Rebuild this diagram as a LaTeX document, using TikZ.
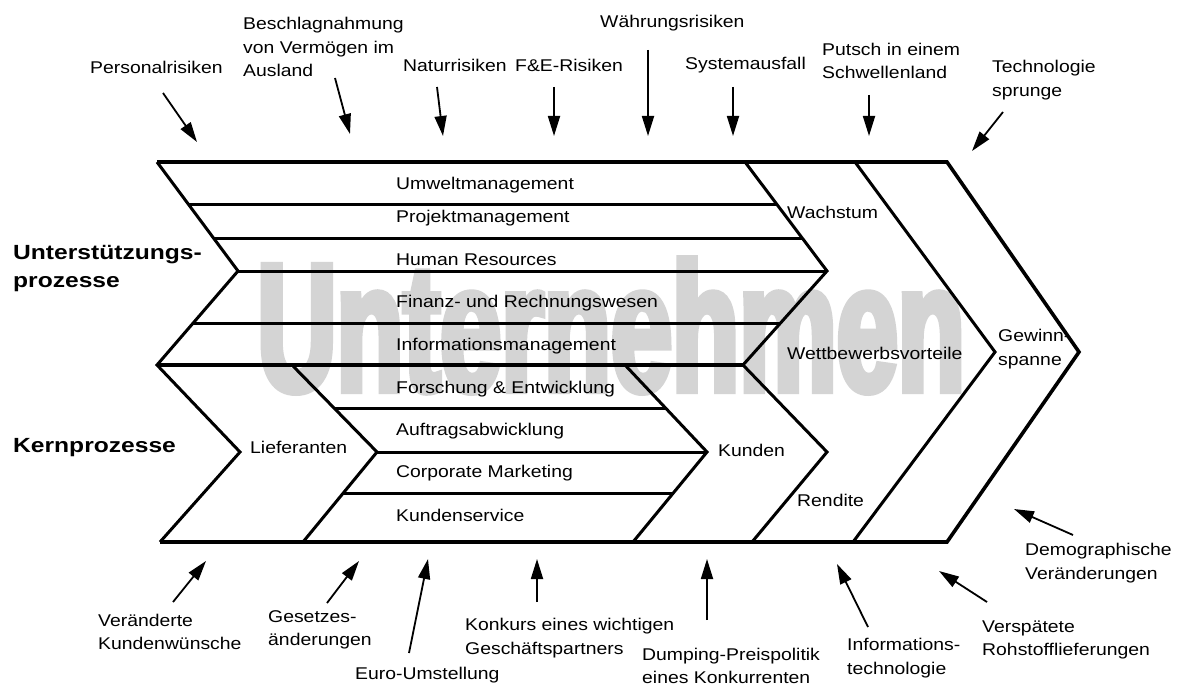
\documentclass[tikz,border=0pt]{standalone}
\usepackage{fontspec}
\setmainfont{Liberation Sans}
\newfontfamily\lblfont[FakeStretch=1.14]{Liberation Sans}
\newfontfamily\hdfont[FakeStretch=1.2]{Liberation Sans}
\newfontfamily\wmfont[FakeStretch=0.6,FakeBold=3.5]{Liberation Sans}
\usetikzlibrary{arrows.meta,calc}
\begin{document}
\begin{tikzpicture}[x=1pt,y=-1pt,
  lbl/.style={font=\lblfont\fontsize{17}{23.5}\selectfont, inner sep=0pt, anchor=west, align=left},
  hdr/.style={font=\hdfont\bfseries\fontsize{20.5}{28}\selectfont, inner sep=0pt, anchor=west, align=left},
  frame/.style={line width=3pt, line join=miter},
  rim/.style={line width=3.6pt, line join=miter},
  riskarrow/.style={line width=1.8pt, -{Triangle[length=20pt,width=12pt]}}]
\useasboundingbox (0,0) rectangle (1177,687);
\fill[white] (0,0) rectangle (1177,687);

% watermark
\node[inner sep=0pt, anchor=base west, text=black!17,
      font=\wmfont\bfseries\fontsize{183}{183}\selectfont] (wm) at (257,391) {Unternehmen};

% frame and chevrons
\draw[rim] (157,162) -- (947,162) -- (1079,352) -- (947,542) -- (160,542);
\draw[frame] (157,162) -- (238,271) -- (157,365) -- (240,452) -- (160,542);
\draw[frame] (745,162) -- (827,271) -- (743,365) -- (827,452) -- (752,542);
\draw[frame] (855,162) -- (995,352) -- (853,542);
% support lines
\draw[frame] (188,204) -- (777,204);
\draw[frame] (213.5,238) -- (802,238);
\draw[frame] (238,271) -- (827,271);
\draw[frame] (193,323) -- (780.5,323);
\draw[rim] (157,365) -- (743,365);
% core chevrons and lines
\draw[frame] (292,365) -- (377,452) -- (303,542);
\draw[frame] (625,365) -- (707,452) -- (633,542);
\draw[frame] (334,408) -- (665.5,408);
\draw[frame] (377,452) -- (707,452);
\draw[frame] (343,493) -- (673,493);

% inner labels
\node[lbl] (umw) at (396,185) {Umweltmanagement};
\node[lbl] (prj) at (396,218) {Projektmanagement};
\node[lbl] (hum) at (396,260) {Human Resources};
\node[lbl] (fin) at (396,303) {Finanz- und Rechnungswesen};
\node[lbl] (inf) at (396,346) {Informationsmanagement};
\node[lbl] (fue) at (396,389) {Forschung \& Entwicklung};
\node[lbl] (auf) at (396,431) {Auftragsabwicklung};
\node[lbl] (cm)  at (396,473) {Corporate Marketing};
\node[lbl] (ks)  at (396,515) {Kundenservice};
\node[lbl] (lief) at (250,447) {Lieferanten};
\node[lbl] (kund) at (718,450) {Kunden};
\node[lbl] (wach) at (787,212) {Wachstum};
\node[lbl] (wett) at (787,353) {Wettbewerbsvorteile};
\node[lbl] (rend) at (797,500) {Rendite};
\node[lbl] (gew)  at (998,349) {Gewinn-\\spanne};

% headers
\node[hdr] (unt) at (13,269) {Unterstützungs-\\prozesse};
\node[hdr] (kern) at (13,448) {Kernprozesse};

% top labels
\node[lbl] (pers) at (90,67) {Personalrisiken};
\node[lbl] (besch) at (243,47) {Beschlagnahmung\\von Vermögen im\\Ausland};
\node[lbl] (natur) at (403,65) {Naturrisiken};
\node[lbl] (fe) at (515,65) {F\&E-Risiken};
\node[lbl] (waehr) at (600,23) {Währungsrisiken};
\node[lbl] (sys) at (685,65) {Systemausfall};
\node[lbl] (putsch) at (822,61) {Putsch in einem\\Schwellenland};
\node[lbl] (tech) at (992,80) {Technologie\\sprunge};

% bottom labels
\node[lbl] (ver) at (98,632) {Veränderte\\Kundenwünsche};
\node[lbl] (ges) at (268,630) {Gesetzes-\\änderungen};
\node[lbl] (euro) at (355,675) {Euro-Umstellung};
\node[lbl] (konk) at (465,638) {Konkurs eines wichtigen\\Geschäftspartners};
\node[lbl] (dump) at (642,666) {Dumping-Preispolitik\\eines Konkurrenten};
\node[lbl] (itec) at (847,658) {Informations-\\technologie};
\node[lbl] (versp) at (982,640) {Verspätete\\Rohstofflieferungen};
\node[lbl] (demo) at (1025,563) {Demographische\\Veränderungen};

% arrow end points
\coordinate (a1s) at (163,93);   \coordinate (a1e) at (197,142);
\coordinate (a2s) at (335,78);   \coordinate (a2e) at (350,134);
\coordinate (a3s) at (437,87);   \coordinate (a3e) at (443,136);
\coordinate (a4s) at (554,87);   \coordinate (a4e) at (554,136);
\coordinate (a5s) at (648,50);   \coordinate (a5e) at (648,136);
\coordinate (a6s) at (733,87);   \coordinate (a6e) at (733,136);
\coordinate (a7s) at (869,95);   \coordinate (a7e) at (869,136);
\coordinate (a8s) at (1003,112); \coordinate (a8e) at (972,151);
\coordinate (b1s) at (173,602);  \coordinate (b1e) at (206,561);
\coordinate (b2s) at (327,603);  \coordinate (b2e) at (359,561);
\coordinate (b3s) at (409,653);  \coordinate (b3e) at (428,559);
\coordinate (b4s) at (537,602);  \coordinate (b4e) at (537,559);
\coordinate (b5s) at (707,620);  \coordinate (b5e) at (707,559);
\coordinate (b6s) at (868,627);  \coordinate (b6e) at (837,564);
\coordinate (b7s) at (987,602);  \coordinate (b7e) at (939,571);
\coordinate (b8s) at (1073,535); \coordinate (b8e) at (1014,509);

\foreach \n in {a1,a2,a3,a4,a5,a6,a7,a8,b1,b2,b3,b4,b5,b6,b7,b8}
  \draw[riskarrow] (\n s) -- (\n e);
\end{tikzpicture}
\end{document}
